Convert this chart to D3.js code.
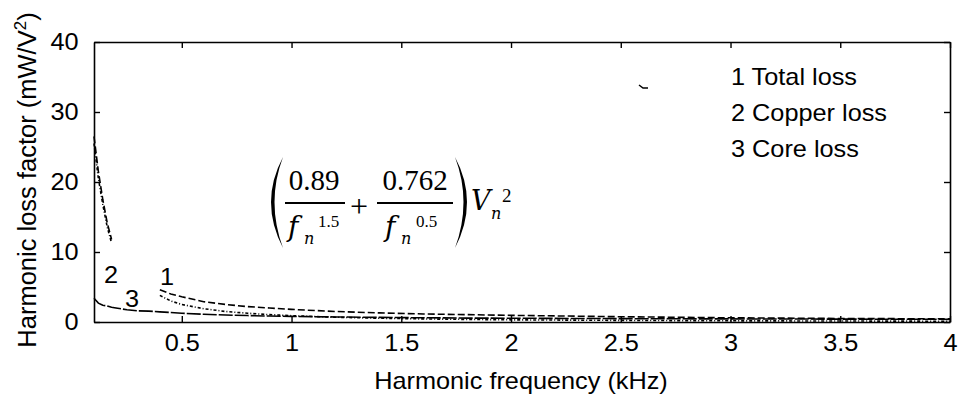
<!DOCTYPE html>
<html><head><meta charset="utf-8">
<script src="https://cdn.jsdelivr.net/npm/d3@7"></script>
<style>body{margin:0;background:#fff}svg{display:block}</style>
</head><body><svg id="c" width="959" height="397" font-family="Liberation Sans, Arial, sans-serif"></svg>
<script>
// Data
const freq   = [0.1, 0.12, 0.14, 0.16, 0.18, 0.2, 0.25, 0.3, 0.35, 0.4, 0.45, 0.5, 0.6, 0.7, 0.8, 0.9, 1.0, 1.2, 1.4, 1.6, 1.8, 2.0, 2.5, 3.0, 3.5, 4.0];
const total  = [26.5, 21.5, 17.5, 14.2, 11.8, null, null, null, null, 4.6, 4.0, 3.6, 2.9, 2.5, 2.2, 2.0, 1.8, 1.5, 1.3, 1.15, 1.05, 0.95, 0.75, 0.6, 0.5, 0.45];
const copper = [25.5, 20.5, 16.8, 13.6, 11.3, null, null, null, null, 3.8, 3.0, 2.5, 1.9, 1.5, 1.25, 1.05, 0.9, 0.68, 0.54, 0.44, 0.37, 0.31, 0.23, 0.17, 0.14, 0.11];
const core   = [3.4, 2.7, 2.4, 2.3, 2.1, 2.0, 1.75, 1.6, 1.55, 1.45, 1.35, 1.25, 1.1, 1.0, 0.92, 0.85, 0.8, 0.72, 0.66, 0.6, 0.56, 0.54, 0.48, 0.44, 0.41, 0.38];
const xTicks = [0.5, 1, 1.5, 2, 2.5, 3, 3.5, 4];
const yTicks = [0, 10, 20, 30, 40];
const legendLabels = ["1 Total loss", "2 Copper loss", "3 Core loss"];
const curveLabels = ["1", "2", "3"];

const SANS = "Liberation Sans, Arial, sans-serif";
const SERIF = "Liberation Serif, Times New Roman, serif";
const ISERIF = "DejaVu Serif, Liberation Serif, serif";
const SX = 1.1;
const svg = d3.select("#c");
const L = 94, R = 950, T = 42, B = 322;
const x = d3.scaleLinear().domain([0.1, 4]).range([L, R]);
const y = d3.scaleLinear().domain([0, 40]).range([B, T]);

function styleAxis(g){
  g.selectAll("path,line").attr("stroke","#000").attr("stroke-width",1.4);
  g.selectAll("text").attr("font-size",23).attr("font-family",SANS).attr("fill","#000")
    .attr("transform",`scale(${SX},1)`);
}
svg.append("g").attr("transform",`translate(0,${B})`)
  .call(d3.axisBottom(x).tickValues(xTicks).tickFormat(d3.format("")).tickSizeInner(-6).tickSizeOuter(0).tickPadding(13)).call(styleAxis);
svg.append("g").attr("transform",`translate(0,${T})`)
  .call(d3.axisTop(x).tickValues(xTicks).tickFormat("").tickSizeInner(-6).tickSizeOuter(0)).call(styleAxis);
svg.append("g").attr("transform",`translate(${L},0)`)
  .call(d3.axisLeft(y).tickValues(yTicks).tickFormat(d3.format("")).tickSizeInner(-6).tickSizeOuter(0).tickPadding(14)).call(styleAxis);
svg.append("g").attr("transform",`translate(${R},0)`)
  .call(d3.axisRight(y).tickValues(yTicks).tickFormat("").tickSizeInner(-6).tickSizeOuter(0)).call(styleAxis);
svg.selectAll(".domain").attr("stroke-width",1.6);

const line = d3.line().defined(d => d[1] !== null).x(d => x(d[0])).y(d => y(d[1]));
const series = [
  {v: total,  dash: "7,3"},
  {v: copper, dash: "3,2,1,2"},
  {v: core,   dash: "14,2"}
];
series.forEach(s => {
  svg.append("path").datum(freq.map((f,i)=>[f, s.v[i]]))
    .attr("d", line).attr("fill","none").attr("stroke","#000")
    .attr("stroke-width",1.6).attr("stroke-dasharray", s.dash);
});

const stext = (xx,yy,t,anchor) => svg.append("text")
  .attr("transform",`translate(${xx},${yy}) scale(${SX},1)`)
  .attr("text-anchor",anchor||"start").attr("font-size",23).attr("font-family",SANS).text(t);

// curve labels
const cl = [[167,285],[111,283],[132,307]];
curveLabels.forEach((t,i)=> stext(cl[i][0], cl[i][1], t, "middle"));

// legend
legendLabels.forEach((t,i)=> stext(731, 85+i*36, t));

// axis titles
stext(521, 389, "Harmonic frequency (kHz)", "middle");
const yl = svg.append("text").attr("transform","translate(36,180) rotate(-90)").attr("text-anchor","middle").attr("font-size",25.5).attr("font-family",SANS);
yl.append("tspan").text("Harmonic loss factor (mW/V");
yl.append("tspan").attr("font-size",17).attr("dy",-10).text("2");
yl.append("tspan").attr("dy",10).text(")");

// formula
const F = svg.append("g");
const tx = (xx,yy,s,t,opt={}) => F.append("text").attr("x",xx).attr("y",yy).attr("font-size",s)
   .attr("font-family",opt.i?ISERIF:SERIF)
   .attr("text-anchor",opt.a||"start").attr("font-style",opt.i?"italic":"normal").text(t);
tx(314,190,29,"0.89",{a:"middle"});
tx(415,190,29,"0.762",{a:"middle"});
F.append("line").attr("x1",285).attr("x2",345).attr("y1",203).attr("y2",203).attr("stroke","#000").attr("stroke-width",1.8);
F.append("line").attr("x1",377).attr("x2",453).attr("y1",203).attr("y2",203).attr("stroke","#000").attr("stroke-width",1.8);
tx(288,236,28,"f",{i:1}); tx(304,244,16,"n",{i:1}); tx(318,227,17,"1.5");
tx(385,236,28,"f",{i:1}); tx(401,244,16,"n",{i:1}); tx(416,227,17,"0.5");
tx(359,217,32,"+",{a:"middle"});
tx(471,210,27,"V",{i:1}); tx(491,219,16,"n",{i:1}); tx(502,202,19,"2");
F.append("path").attr("d","M283,157 Q259,202 283,248 Q266,202 283,157 Z").attr("fill","#000");
F.append("path").attr("d","M455,157 Q479,202 455,248 Q472,202 455,157 Z").attr("fill","#000");
// small scan mark
svg.append("path").attr("d","M639,85 l4,3 l5,0").attr("fill","none").attr("stroke","#000").attr("stroke-width",1.5);
</script></body></html>
